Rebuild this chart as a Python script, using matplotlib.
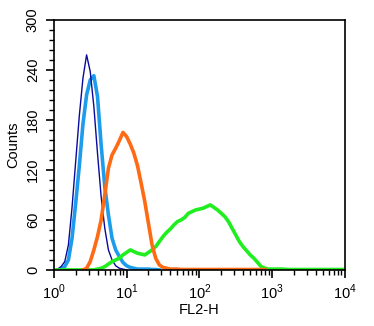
import numpy as np
import matplotlib
matplotlib.use("Agg")
import matplotlib.pyplot as plt
from matplotlib.ticker import FixedLocator, NullFormatter

plt.rcParams['font.family'] = ['Liberation Sans', 'DejaVu Sans']
plt.rcParams['mathtext.fontset'] = 'custom'
plt.rcParams['mathtext.rm'] = 'Liberation Sans'

# channel width in decades of FL2-H
step = 0.05

# counts per channel, each series starts at its own log10 position
navy_start = 0.0
navy_counts = [0, 1, 4, 10, 30, 75, 130, 185, 230, 258, 238, 196, 140, 88,
               50, 24, 12, 5, 2, 1, 0]

blue_start = 0.10
blue_counts = [1, 4, 12, 38, 80, 125, 175, 210, 228, 233, 208, 150, 100, 66,
               38, 24, 16, 9, 5, 3, 2, 1, 1, 1, 1, 0.5, 0.5, 0]

orange_start = 0.40
orange_counts = [0, 2, 10, 24, 40, 60, 90, 122, 138, 146, 155, 165, 160, 151,
                 140, 125, 104, 82, 56, 30, 14, 6, 3, 2, 1, 1, 1,
                 0.5, 0.5, 0.5, 0.5, 0.5, 0.5, 0.5, 0.5, 0.5, 0.5, 0.5, 0.5,
                 0.5, 0.5, 0.5, 0.5, 0.5, 0.5, 0.5, 0.5, 0.5, 0.5, 0.5, 0.5]

green_start = 0.0
green_counts = [0, 0, 0, 0, 0, 0, 0, 0, 0, 0, 0, 0,
                1, 2, 4, 7, 10, 12, 14, 18, 21, 24, 22, 20, 19, 18, 21, 24,
                28, 34, 40, 45, 49, 54, 58, 60, 63, 68, 70, 72, 73, 74, 76,
                78, 75, 72, 68, 64, 58, 50, 42, 34, 28, 23, 18, 14, 9, 4, 2,
                1, 1, 1, 1, 1, 0.5, 0.5, 0.5, 0.5, 0.5, 0.5, 0.5, 0.5, 0.5,
                0.5, 0.5, 0.5, 0.5, 0.5, 0.5, 0.5, 0.5]

series = [
    (blue_start, blue_counts, '#1e9cec', 2.6),
    (navy_start, navy_counts, '#0a0a9c', 1.0),
    (green_start, green_counts, '#1fee1f', 2.6),
    (orange_start, orange_counts, '#ff6a14', 2.6),
]

fig = plt.figure(figsize=(3.74, 3.26), dpi=100)
ax = fig.add_axes([0.144, 0.172, 0.778, 0.767])

for start, counts, color, lw in series:
    logs = start + step * np.arange(len(counts))
    ax.plot(10 ** logs, counts, color=color, lw=lw)

ax.set_xscale('log')
ax.set_xlim(1, 1e4)
ax.set_ylim(0, 300)

ax.set_yticks([0, 60, 120, 180, 240, 300])
ax.yaxis.set_minor_locator(FixedLocator(np.arange(0, 301, 12)))
for lab in ax.get_yticklabels():
    lab.set_rotation(90)
    lab.set_va('center')

ax.set_xticks([1, 10, 100, 1000, 10000])
ax.set_xticklabels([r'$10^0$', r'$10^1$', r'$10^2$', r'$10^3$', r'$10^4$'])
ax.xaxis.set_minor_formatter(NullFormatter())

ax.tick_params(which='major', length=6, width=1.2, labelsize=10.5, pad=3)
ax.tick_params(which='minor', length=3.5, width=1.0)
ax.tick_params(axis='y', pad=4)

for sp in ax.spines.values():
    sp.set_linewidth(1.2)

ax.set_ylabel('Counts', fontsize=10.5, labelpad=4)
ax.set_xlabel('FL2-H', fontsize=10.5, labelpad=1)

fig.savefig('out.png', dpi=100)
